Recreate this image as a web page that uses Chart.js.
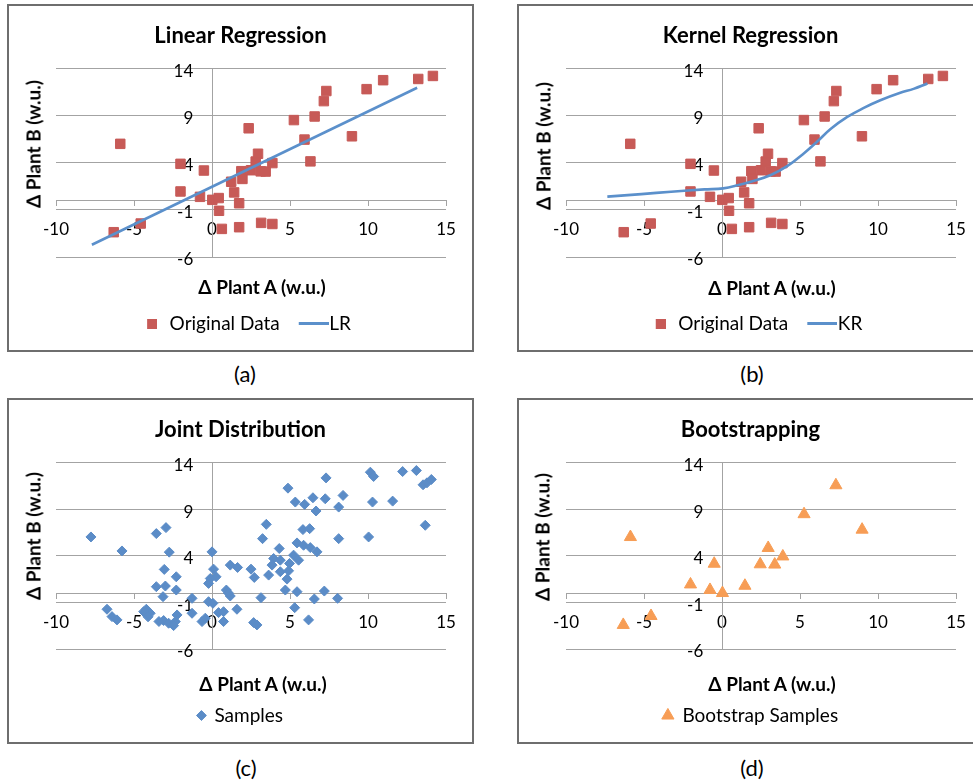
<!DOCTYPE html>
<html>
<head>
<meta charset="utf-8">
<script src="https://cdn.jsdelivr.net/npm/chart.js@4.4.1/dist/chart.umd.min.js"></script>
<style>
  html, body { margin:0; padding:0; background:#fff; }
  body { width:973px; height:780px; position:relative; overflow:hidden; font-family:Lato, sans-serif; color:#000; }
  .panel { position:absolute; width:467px; border:2px solid #6e6e6e; box-sizing:border-box; }
  .panel canvas { position:absolute; left:0; top:0; }
  .xt, .yt { position:absolute; font-weight:bold; font-size:19px; white-space:nowrap; }
  .xt { transform:translate(-50%, -50%); }
  .yt { transform:translate(-50%, -50%) rotate(-90deg); }
  .cap { position:absolute; font-size:22px; transform:translate(-50%, -50%); }
</style>
</head>
<body>

<div class="panel" style="left:7px;top:4px;height:348px">
  <canvas id="chartA" width="463" height="344"></canvas>
  <div class="yt" style="left:24px;top:138px">Δ Plant B (w.u.)</div>
  <div class="xt" style="left:253px;top:280px">Δ Plant A (w.u.)</div>
</div>
<div class="panel" style="left:517px;top:4px;height:348px">
  <canvas id="chartB" width="463" height="344"></canvas>
  <div class="yt" style="left:24px;top:140px">Δ Plant B (w.u.)</div>
  <div class="xt" style="left:253px;top:281px">Δ Plant A (w.u.)</div>
</div>
<div class="panel" style="left:7px;top:398px;height:346px">
  <canvas id="chartC" width="463" height="342"></canvas>
  <div class="yt" style="left:24px;top:136px">Δ Plant B (w.u.)</div>
  <div class="xt" style="left:254px;top:283px">Δ Plant A (w.u.)</div>
</div>
<div class="panel" style="left:517px;top:398px;height:346px">
  <canvas id="chartD" width="463" height="342"></canvas>
  <div class="yt" style="left:23px;top:137px">Δ Plant B (w.u.)</div>
  <div class="xt" style="left:253px;top:283px">Δ Plant A (w.u.)</div>
</div>

<div class="cap" style="left:245px;top:373px">(a)</div>
<div class="cap" style="left:752px;top:373px">(b)</div>
<div class="cap" style="left:246px;top:767px">(c)</div>
<div class="cap" style="left:752px;top:767px">(d)</div>

<script>
// axis ranges (shared by all four panels)
const xRange = [-10, 15];
const yRange = [-6, 14];
const tickStep = 5;

// original observations (panels a, b)
const origX = [-6.30, -5.88, -4.57, -2.02, -2.02, -0.77, -0.52, 0.02, 0.43, 0.45, 0.63, 1.23, 1.42, 1.74, 1.74,
  1.88, 1.95, 2.35, 2.50, 2.80, 2.95, 3.12, 3.44, 3.15, 3.87, 3.87, 5.25, 5.93, 6.31, 6.58, 7.17, 7.33,
  8.97, 9.91, 10.97, 13.22, 14.16];
const origY = [-3.37, 6.00, -2.45, 3.88, 0.95, 0.38, 3.17, 0.06, 0.25, -1.10, -3.02, 1.98, 0.85, -0.30, -2.84,
  3.10, 2.28, 7.65, 3.20, 4.12, 4.95, 3.08, 3.06, -2.38, 3.96, -2.50, 8.52, 6.45, 4.14, 8.90, 10.53, 11.60,
  6.80, 11.80, 12.75, 12.88, 13.20];

// linear regression line (a)
const lrX = [-7.7, 13.15];
const lrY = [-4.7, 11.95];

// kernel regression curve (b)
const krX = [-7.35, -5.17, -3.26, -1.13, 0.08, 1.00, 2.06, 3.13, 4.20, 5.26, 6.11, 6.96, 8.03, 9.09, 10.15, 11.43, 12.28, 13.17];
const krY = [0.40, 0.67, 0.92, 1.17, 1.28, 1.60, 2.09, 2.70, 3.66, 5.01, 6.25, 7.57, 8.85, 9.81, 10.62, 11.41, 11.83, 12.40];

// joint distribution samples (c)
const jointX = [-7.76, -5.77, -3.57, -2.95, -2.74, -3.06, -2.29, -3.57, -2.99, -3.14, -2.29, -6.73, -6.41, -6.09,
  -4.21, -3.96, -4.38, -4.10, -3.10, -2.78, -2.35, -2.46, -2.24, -3.40, -1.28, -1.28,
  0.00, 0.10, 0.26, -0.11, -0.22, -0.22, 0.06, -0.43, -0.64, 0.42, 0.74, 0.74, 0.92, 1.17, 1.05, 1.17, 1.64, 1.60,
  2.50, 2.71, 2.67, 2.88, 3.14, 3.48, 3.24, 4.31, 3.95, 4.38, 3.85, 3.63, 4.38, 5.23, 5.55, 4.91, 4.81, 4.97,
  4.70, 5.45, 5.30, 6.19, 6.56, 7.20, 8.05, 4.87, 7.31, 10.15, 10.36, 12.22, 13.10, 13.53, 13.78, 14.06,
  5.34, 5.94, 6.47, 6.67, 7.26, 8.40, 8.12, 10.29, 11.58, 13.67, 5.83, 6.26, 5.45, 5.87, 6.30, 6.73, 8.12, 10.04];
const jointY = [6.01, 4.51, 6.37, 7.01, 4.38, 2.53, 1.74, 0.68, 0.75, -0.39, 0.32, -1.74, -2.53, -2.88,
  -1.74, -2.17, -2.00, -2.55, -2.95, -3.24, -3.06, -3.49, -2.35, -3.05, -0.57, -2.17,
  4.41, 2.56, 1.74, 1.56, 1.03, -0.93, -1.10, -2.70, -3.06, -2.10, -2.00, -3.06, 0.32, -0.32, 0.00, 2.99, 2.74, -1.74,
  2.56, 1.67, -3.17, -3.42, -0.50, 7.36, 5.83, 4.77, 3.70, 3.52, 2.99, 1.92, 2.28, 4.06, 3.52, 2.38, 1.49, 3.17,
  0.32, 0.14, -1.57, -2.88, -0.64, 0.21, -0.57, 11.24, 12.34, 12.95, 12.49, 13.02, 13.13, 11.60, 11.81, 12.17,
  9.75, 9.50, 10.21, 8.79, 10.10, 10.46, 9.21, 9.75, 9.85, 7.26, 6.80, 6.90, 5.37, 5.12, 4.87, 4.41, 5.83, 6.01];

// bootstrap samples (d)
const bootX = [-6.33, -5.87, -4.55, -2.02, -0.77, -0.50, 0.03, 1.47, 2.45, 2.96, 3.38, 3.90, 5.26, 7.30, 8.98];
const bootY = [-3.42, 6.00, -2.46, 0.92, 0.33, 3.14, 0.00, 0.78, 3.08, 4.83, 3.05, 3.92, 8.45, 11.55, 6.79];

const red = "#c75a57", blue = "#5b8cc7", orange = "#f79d55", lineBlue = "#5b90cb", gridGray = "#a3a3a3";
const tickFont = { family: "Lato", size: 17 };

const pts = (xs, ys) => xs.map((x, i) => ({ x, y: ys[i] }));

// empty axis that only reserves room around the plot
function spacer(pos, size) {
  return {
    type: "linear", position: pos, min: 0, max: 1,
    ticks: { display: false }, grid: { display: false, drawTicks: false }, border: { display: false },
    afterFit: s => { if (pos === "bottom") s.height = size; else s.width = size; }
  };
}

function icon(w, h, color, fx, fw) {
  const c = document.createElement("canvas");
  c.width = w; c.height = h;
  const g = c.getContext("2d");
  g.fillStyle = color;
  g.fillRect(fx, 0, fw, h);
  return c;
}
const squareIcon = icon(24, 10, red, 14, 10);
const lineIcon = icon(48, 3, lineBlue, 18, 30);

const lineLegend = {
  usePointStyle: true, pointStyleWidth: 30, boxHeight: 10,
  generateLabels: chart => {
    const items = Chart.defaults.plugins.legend.labels.generateLabels(chart);
    items.sort((p, q) => p.datasetIndex - q.datasetIndex);
    items.forEach(it => { it.pointStyle = it.datasetIndex === 0 ? squareIcon : lineIcon; });
    return items;
  }
};

function makeChart(id, title, datasets, legendLabels) {
  return new Chart(document.getElementById(id), {
    type: "scatter",
    data: { datasets },
    options: {
      responsive: false,
      animation: false,
      events: [],
      layout: { padding: { bottom: 7 } },
      plugins: {
        title: {
          display: true, text: title, color: "#000",
          font: { family: "Lato", size: 22, weight: "bold" },
          padding: { top: 17, bottom: 19 }
        },
        legend: {
          position: "bottom",
          labels: Object.assign({ color: "#000", font: { family: "Lato", size: 19 } }, legendLabels)
        },
        tooltip: { enabled: false }
      },
      scales: {
        x: {
          type: "linear", position: { y: 0 }, min: xRange[0], max: xRange[1],
          ticks: { stepSize: tickStep, padding: 14, color: "#000", font: tickFont },
          grid: { drawOnChartArea: false, drawTicks: true, tickLength: 5, color: gridGray },
          border: { color: gridGray }
        },
        y: {
          type: "linear", position: { x: 0 }, min: yRange[0], max: yRange[1],
          ticks: { stepSize: tickStep, display: false },
          grid: { color: gridGray, drawTicks: false },
          border: { color: gridGray }
        },
        yl: {
          type: "linear", axis: "y", position: { x: -1.2 }, min: yRange[0], max: yRange[1],
          ticks: { stepSize: tickStep, labelOffset: 3, color: "#000", font: tickFont },
          grid: { display: false, drawTicks: false },
          border: { display: false }
        },
        padL: spacer("left", 47),
        padR: spacer("right", 26),
        padB: spacer("bottom", 47)
      }
    }
  });
}

function markers(label, xs, ys, color, style, radius) {
  return {
    label, data: pts(xs, ys), xAxisID: "x", yAxisID: "y", order: 1,
    pointStyle: style, pointRadius: radius, backgroundColor: color, borderColor: color, borderWidth: 1
  };
}

function curve(label, xs, ys, tension) {
  return {
    label, data: pts(xs, ys), xAxisID: "x", yAxisID: "y", order: 0,
    showLine: true, pointRadius: 0, borderColor: lineBlue, backgroundColor: lineBlue,
    borderWidth: 2.6, tension, fill: false
  };
}

makeChart("chartA", "Linear Regression", [
  markers("Original Data", origX, origY, red, "rect", 6.7),
  curve("LR", lrX, lrY, 0)
], lineLegend);

makeChart("chartB", "Kernel Regression", [
  markers("Original Data", origX, origY, red, "rect", 6.7),
  curve("KR", krX, krY, 0.4)
], lineLegend);

makeChart("chartC", "Joint Distribution", [
  markers("Samples", jointX, jointY, blue, "rectRot", 5)
], { usePointStyle: true, boxWidth: 7, boxHeight: 7 });

makeChart("chartD", "Bootstrapping", [
  markers("Bootstrap Samples", bootX, bootY, orange, "triangle", 7)
], { usePointStyle: true, boxWidth: 10, boxHeight: 10 });
</script>
</body>
</html>
